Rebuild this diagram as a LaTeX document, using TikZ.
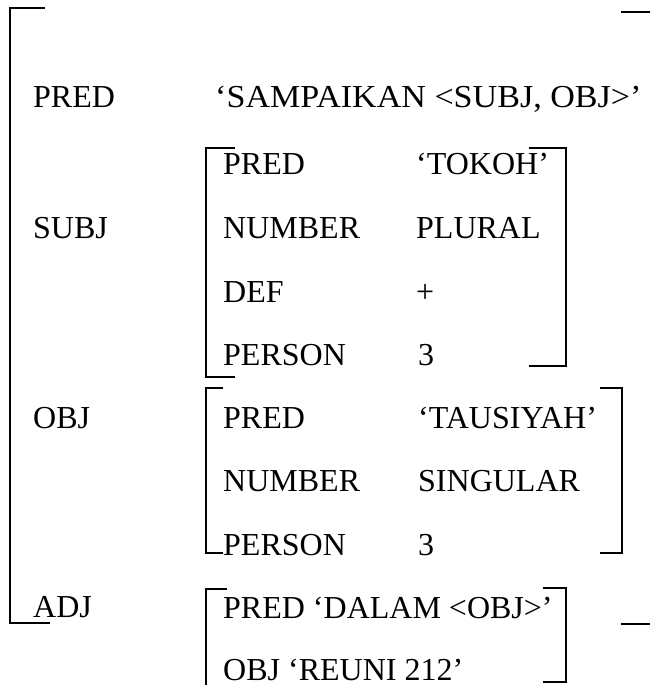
\documentclass[tikz,border=0pt]{standalone}
\usepackage{fontspec}
\usepackage{graphicx}
\setmainfont{Liberation Serif}
\tikzset{
  lbl/.style={anchor=base west, inner sep=0pt, font=\fontsize{32}{38}\selectfont},
  brk/.style={line width=1.7pt, line cap=butt}
}
\begin{document}
\begin{tikzpicture}[x=1pt,y=-1pt]
\useasboundingbox (0,0) rectangle (652,685);
% outer bracket
\draw[brk] (45,8) -- (10,8) -- (10,623) -- (50,623);
\draw[brk] (621,12) -- (650,12);
\draw[brk] (621,624) -- (650,624);
% top level
\node[lbl] (pred) at (33,107) {PRED};
\node[lbl] (predv) at (215,107) {\scalebox{1.065}[1]{‘SAMPAIKAN <SUBJ, OBJ>’}};
\node[lbl] (subj) at (33,238) {SUBJ};
\node[lbl] (obj) at (33,428) {OBJ};
\node[lbl] (adj) at (33,617) {ADJ};
% SUBJ f-structure
\draw[brk] (235,148) -- (206,148) -- (206,377) -- (235,377);
\draw[brk] (529,148) -- (566,148) -- (566,366) -- (529,366);
\node[lbl] (s1) at (223,174) {PRED};
\node[lbl] (s1v) at (416,174) {‘TOKOH’};
\node[lbl] (s2) at (223,238) {NUMBER};
\node[lbl] (s2v) at (416,238) {PLURAL};
\node[lbl] (s3) at (223,302) {DEF};
\node[lbl] (s3v) at (416,302) {+};
\node[lbl] (s4) at (223,365) {PERSON};
\node[lbl] (s4v) at (418,365) {3};
% OBJ f-structure
\draw[brk] (223,388) -- (206,388) -- (206,553) -- (223,553);
\draw[brk] (600,388) -- (622,388) -- (622,553) -- (600,553);
\node[lbl] (o1) at (223,428) {PRED};
\node[lbl] (o1v) at (418,428) {‘TAUSIYAH’};
\node[lbl] (o2) at (223,491) {NUMBER};
\node[lbl] (o2v) at (418,491) {SINGULAR};
\node[lbl] (o3) at (223,555) {PERSON};
\node[lbl] (o3v) at (418,555) {3};
% ADJ f-structure
\draw[brk] (227,589) -- (206,589) -- (206,685);
\draw[brk] (543,588) -- (566,588) -- (566,682) -- (543,682);
\node[lbl] (a1) at (223,618) {PRED ‘DALAM <OBJ>’};
\node[lbl, text depth=0pt] (a2) at (223,680) {OBJ ‘REUNI 212’};
\end{tikzpicture}
\end{document}
